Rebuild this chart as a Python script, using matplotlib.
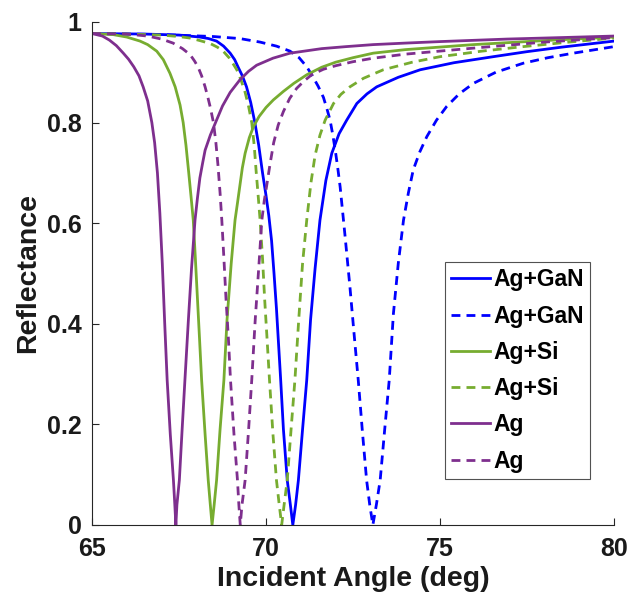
"""
SPR reflectance vs incident angle for Ag, Ag+Si and Ag+GaN stacks.

Produces: out.png
"""

import matplotlib
matplotlib.use("Agg")
import matplotlib.pyplot as plt

# ── Data ──────────────────────────────────────────────────────────────────
ag_gan_x = [65.0, 66.5, 67.5, 68.1, 68.35, 68.58, 68.78, 68.97, 69.1, 69.2,
            69.32, 69.44, 69.56, 69.68, 69.79, 69.9, 70.0, 70.08, 70.16, 70.23,
            70.30, 70.36, 70.42, 70.50, 70.61, 70.70, 70.77,
            70.85, 70.93, 71.05, 71.17, 71.28, 71.41, 71.55, 71.72, 71.89, 72.1,
            72.32, 72.61, 72.9, 73.18, 73.8, 74.43, 75.4, 76.53, 77.5, 78.5, 80.0]
ag_gan_y = [0.977, 0.976, 0.974, 0.970, 0.967, 0.962, 0.952, 0.938, 0.925, 0.91,
            0.893, 0.871, 0.84, 0.80, 0.755, 0.70, 0.655, 0.615, 0.565, 0.50,
            0.43, 0.36, 0.29, 0.19, 0.089, 0.04, 0.0,
            0.04, 0.089, 0.19, 0.288, 0.408, 0.51, 0.606, 0.685, 0.739, 0.778,
            0.805, 0.838, 0.857, 0.871, 0.890, 0.905, 0.919, 0.931, 0.941, 0.950, 0.962]

ag_gan2_x = [65.0, 67.0, 68.5, 69.25, 69.83, 70.3, 70.69, 70.95, 71.17, 71.33,
             71.5, 71.65, 71.76, 71.84, 71.92, 72.0, 72.07, 72.13, 72.27, 72.41,
             72.53, 72.65, 72.77, 72.89, 72.98, 73.07,
             73.17, 73.28, 73.41, 73.54, 73.66, 73.80, 73.95, 74.09, 74.23, 74.42,
             74.62, 74.9, 75.19, 75.55, 75.96, 76.6, 77.39, 78.1, 78.83, 80.0]
ag_gan2_y = [0.977, 0.975, 0.971, 0.967, 0.960, 0.952, 0.942, 0.929, 0.911, 0.893,
             0.872, 0.85, 0.825, 0.805, 0.775, 0.74, 0.705, 0.672, 0.575, 0.474,
             0.38, 0.288, 0.185, 0.089, 0.04, 0.0,
             0.04, 0.089, 0.19, 0.288, 0.42, 0.52, 0.606, 0.66, 0.706, 0.742,
             0.772, 0.805, 0.832, 0.857, 0.878, 0.900, 0.918, 0.929, 0.938, 0.951]

ag_si_x = [65.0, 65.6, 66.0, 66.38, 66.6, 66.86, 67.05, 67.24, 67.39, 67.53,
           67.62, 67.7, 67.78, 67.85, 67.91, 67.97, 68.03, 68.09, 68.15, 68.25,
           68.34, 68.40, 68.45,
           68.51, 68.58, 68.68, 68.79, 68.88, 69.0, 69.11, 69.18, 69.25, 69.32,
           69.40, 69.52, 69.64, 69.8, 70.0, 70.21, 70.5, 70.8, 71.17, 71.6,
           72.0, 72.5, 73.08, 74.0, 75.96, 78.0, 80.0]
ag_si_y = [0.977, 0.975, 0.970, 0.962, 0.955, 0.942, 0.925, 0.898, 0.871, 0.835,
           0.80, 0.755, 0.70, 0.65, 0.606, 0.53, 0.45, 0.37, 0.288, 0.18,
           0.089, 0.04, 0.0,
           0.04, 0.089, 0.19, 0.288, 0.408, 0.52, 0.606, 0.64, 0.675, 0.71,
           0.739, 0.77, 0.792, 0.812, 0.830, 0.845, 0.862, 0.878, 0.895, 0.910,
           0.920, 0.929, 0.938, 0.945, 0.955, 0.963, 0.970]

ag_si2_x = [65.0, 66.0, 67.0, 67.5, 67.82, 68.1, 68.4, 68.6, 68.77, 68.95,
            69.08, 69.16, 69.28, 69.40, 69.50, 69.59, 69.66, 69.72, 69.78, 69.83,
            69.90, 69.96, 70.03, 70.10, 70.20, 70.30, 70.38, 70.45,
            70.52, 70.61, 70.72, 70.83, 70.94, 71.05, 71.17, 71.29, 71.41, 71.55,
            71.70, 71.94, 72.15, 72.41, 72.8, 73.37, 74.2, 75.0, 76.2, 77.39,
            78.7, 80.0]
ag_si2_y = [0.977, 0.976, 0.974, 0.971, 0.968, 0.963, 0.957, 0.950, 0.942, 0.928,
            0.914, 0.905, 0.885, 0.86, 0.832, 0.80, 0.755, 0.70, 0.65, 0.606,
            0.53, 0.45, 0.37, 0.288, 0.18, 0.089, 0.04, 0.0,
            0.04, 0.089, 0.19, 0.288, 0.408, 0.52, 0.606, 0.68, 0.735, 0.775,
            0.805, 0.838, 0.856, 0.871, 0.888, 0.905, 0.920, 0.931, 0.942, 0.951,
            0.960, 0.968]

ag_x = [65.0, 65.3, 65.5, 65.7, 65.9, 66.05, 66.2, 66.35, 66.47, 66.6,
        66.72, 66.8, 66.88, 66.95, 67.02, 67.09, 67.16, 67.25, 67.34, 67.38,
        67.41,
        67.44, 67.51, 67.59, 67.67, 67.77, 67.86, 67.96, 68.03, 68.10, 68.18,
        68.25, 68.4, 68.58, 68.75, 68.97, 69.25, 69.5, 69.73, 70.2, 70.69,
        71.6, 72.3, 73.08, 74.0, 75.0, 76.92, 78.5, 80.0]
ag_y = [0.977, 0.972, 0.964, 0.953, 0.938, 0.926, 0.911, 0.893, 0.871, 0.843,
        0.80, 0.76, 0.70, 0.62, 0.52, 0.40, 0.288, 0.18, 0.089, 0.04,
        0.0,
        0.04, 0.089, 0.19, 0.288, 0.408, 0.51, 0.606, 0.65, 0.69, 0.72,
        0.745, 0.775, 0.805, 0.833, 0.860, 0.885, 0.902, 0.914, 0.928, 0.938,
        0.947, 0.951, 0.955, 0.958, 0.961, 0.966, 0.969, 0.972]

ag2_x = [65.0, 66.0, 66.6, 67.0, 67.33, 67.6, 67.82, 67.95, 68.05, 68.15,
         68.25, 68.33, 68.40, 68.49, 68.56, 68.62, 68.68, 68.73, 68.79, 68.85,
         68.92, 68.98, 69.08, 69.18, 69.22, 69.26,
         69.31, 69.40, 69.50, 69.59, 69.69, 69.79, 69.88, 69.95, 70.02, 70.11,
         70.22, 70.35, 70.50, 70.68, 70.88, 71.1, 71.31, 71.65, 72.0, 72.5,
         73.08, 74.0, 75.96, 78.0, 80.0]
ag2_y = [0.977, 0.976, 0.972, 0.966, 0.958, 0.947, 0.935, 0.922, 0.91, 0.893,
         0.871, 0.85, 0.83, 0.80, 0.76, 0.715, 0.66, 0.606, 0.53, 0.45,
         0.37, 0.288, 0.18, 0.089, 0.04, 0.0,
         0.04, 0.089, 0.19, 0.288, 0.408, 0.51, 0.606, 0.645, 0.675, 0.715,
         0.76, 0.795, 0.822, 0.848, 0.868, 0.883, 0.895, 0.906, 0.913, 0.921,
         0.928, 0.936, 0.948, 0.960, 0.969]

labels = ["Ag+GaN", "Ag+GaN", "Ag+Si", "Ag+Si", "Ag", "Ag"]
x_ticks = [65, 70, 75, 80]
y_ticks = [0, 0.2, 0.4, 0.6, 0.8, 1]
y_tick_labels = ["0", "0.2", "0.4", "0.6", "0.8", "1"]

BLUE = "#0000FF"
GREEN = "#77AC30"
PURPLE = "#7E2F8E"
AXIS_C = "#262626"
TEXT_C = "#1a1a1a"

plt.rcParams["font.family"] = ["Liberation Sans", "DejaVu Sans"]
plt.rcParams["font.weight"] = "bold"

fig = plt.figure(figsize=(6.41, 6.02), dpi=100)
ax = fig.add_axes([0.1435, 0.128, 0.8145, 0.8355])

series = [
    (ag_gan_x, ag_gan_y, BLUE, "-"),
    (ag_gan2_x, ag_gan2_y, BLUE, "--"),
    (ag_si_x, ag_si_y, GREEN, "-"),
    (ag_si2_x, ag_si2_y, GREEN, "--"),
    (ag_x, ag_y, PURPLE, "-"),
    (ag2_x, ag2_y, PURPLE, "--"),
]
for (xs, ys, col, ls), lab in zip(series, labels):
    line, = ax.plot(xs, ys, color=col, linestyle=ls, linewidth=2.0, label=lab)
    if ls == "--":
        line.set_dashes((3.2, 2.2))

ax.set_xlim(65, 80)
ax.set_ylim(0, 1)
ax.set_xticks(x_ticks)
ax.set_yticks(y_ticks)
ax.set_yticklabels(y_tick_labels)

# box off, like the source figure
for side in ["top", "right"]:
    ax.spines[side].set_visible(False)
for side in ["left", "bottom"]:
    ax.spines[side].set_color(AXIS_C)
    ax.spines[side].set_linewidth(0.8)
ax.tick_params(direction="in", length=5, width=0.8, colors=AXIS_C,
               labelsize=18, labelcolor=TEXT_C)
ax.tick_params(axis="x", pad=9)
ax.tick_params(axis="y", pad=7.5)

ax.set_xlabel("Incident Angle (deg)", fontsize=20.5, fontweight="bold",
              color=TEXT_C, labelpad=3)
ax.set_ylabel("Reflectance", fontsize=20.5, fontweight="bold",
              color=TEXT_C, labelpad=4)

leg = ax.legend(loc="upper left", bbox_to_anchor=(0.676, 0.523),
                fontsize=16.5, frameon=True, fancybox=False,
                handlelength=1.7, handletextpad=0.12, labelspacing=0.58,
                borderpad=0.28, borderaxespad=0.0)
leg.get_frame().set_edgecolor(AXIS_C)
leg.get_frame().set_linewidth(0.8)
for t in leg.get_texts():
    t.set_fontweight("bold")

fig.savefig("out.png", dpi=100, facecolor="white")
plt.close(fig)
